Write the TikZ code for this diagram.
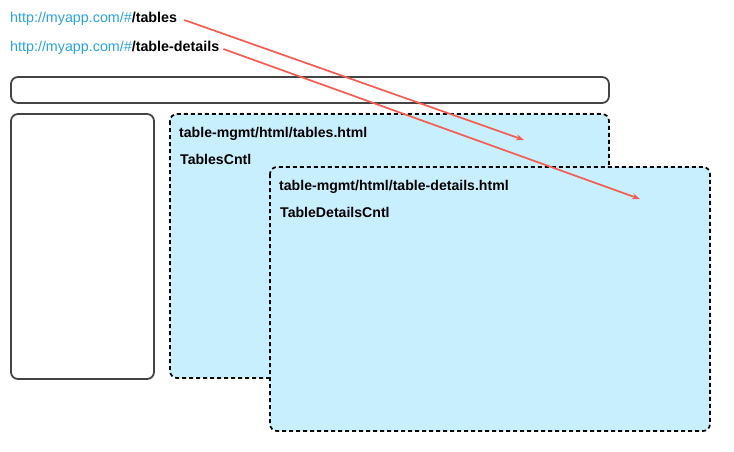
\documentclass[tikz,border=0pt]{standalone}
\usepackage{fontspec}
\setmainfont{Liberation Sans}
\usetikzlibrary{arrows.meta}
\definecolor{urlblue}{RGB}{41,163,226}
\definecolor{paneblue}{RGB}{200,239,253}
\definecolor{framegray}{RGB}{68,68,68}
\definecolor{arrowred}{RGB}{245,92,82}
\tikzset{
  frame/.style={draw=framegray, line width=1.8pt, rounded corners=7pt},
  pane/.style={draw=black, fill=paneblue, line width=1.7pt, dash pattern=on 4pt off 3pt, rounded corners=7pt},
  url/.style={anchor=west, inner sep=0pt, font=\fontsize{14.3}{16}\selectfont},
  lbl/.style={anchor=west, inner sep=0pt, font=\fontsize{14.1}{16}\selectfont\bfseries},
  link/.style={draw=arrowred, line width=1.7pt, -{Stealth[length=8pt,width=6pt]}}
}
\begin{document}
\begin{tikzpicture}[x=1pt,y=-1pt]
\useasboundingbox (0,0) rectangle (734,451);
% frames
\draw[frame] (11,77) rectangle (609,103);
\draw[frame] (11,114) rectangle (154,379);
% panes
\draw[pane] (170,114) rectangle (609,378);
\node[lbl] (p1a) at (179,134) {table-mgmt/html/tables.html};
\node[lbl] (p1b) at (180,159) {TablesCntl};
\draw[pane] (270,167) rectangle (710,431);
\node[lbl] (p2a) at (279,187) {table-mgmt/html/table-details.html};
\node[lbl] (p2b) at (280,212) {TableDetailsCntl};
% urls
\node[url] (u1) at (10,19) {\textcolor{urlblue}{http://myapp.com/\#}\textbf{/tables}};
\node[url] (u2) at (10,48) {\textcolor{urlblue}{http://myapp.com/\#}\textbf{/table-details}};
\coordinate (t1) at (524,140);
\coordinate (t2) at (640,199);
\draw[link] ([xshift=7pt,yshift=-1pt]u1.east) -- (t1);
\draw[link] ([xshift=4pt,yshift=-1pt]u2.east) -- (t2);
\end{tikzpicture}
\end{document}
